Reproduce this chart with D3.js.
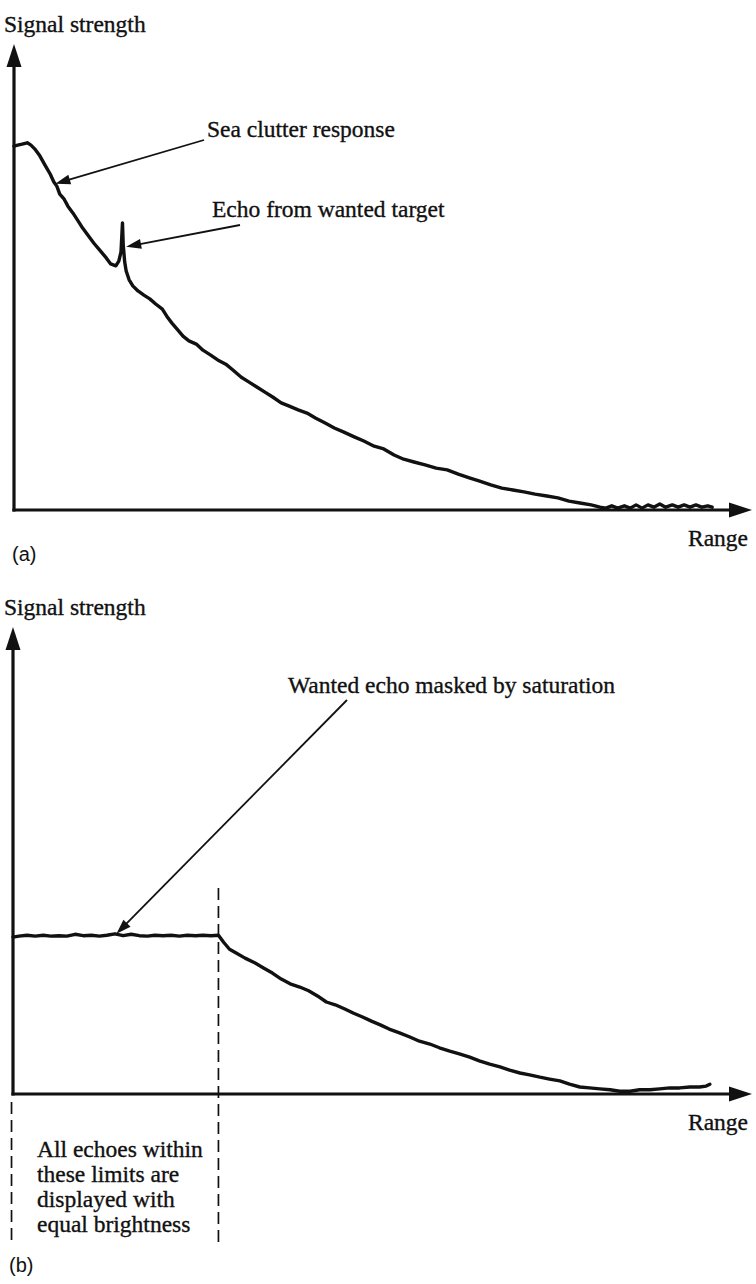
<!DOCTYPE html>
<html>
<head>
<meta charset="utf-8">
<script src="https://cdn.jsdelivr.net/npm/d3@7"></script>
<style>
  html, body { margin: 0; padding: 0; background: #fff; }
  svg { display: block; }
</style>
</head>
<body>
<svg id="chart" width="756" height="1284"></svg>
<script>
// ---------------- DATA (range and signal strength, arbitrary 0-100 units) ----------------
const rangeA = [0,0.5,1.1,1.8,2.3,2.8,3.5,4.2,4.9,5.4,5.8,6.2,6.8,7.3,8.0,8.7,9.3,10.0,10.8,11.7,12.5,13.1,
  13.8,14.2,14.5,14.7,14.8,15.0,15.2,15.6,
  16.1,16.8,17.6,18.4,19.2,20.1,20.7,21.4,22.1,22.9,23.7,24.7,25.6,26.6,27.6,28.7,29.7,30.8,31.8,32.9,34.0,35.1,
  36.2,37.3,38.5,39.7,40.9,42.1,43.4,44.7,46.1,47.4,48.8,50.1,51.5,52.8,54.2,55.7,57.2,58.7,60.2,61.7,63.1,64.6,
  66.1,67.6,69.1,70.6,72.2,73.7,75.2,76.7,78.2,79.4,80.2,81.0,81.8,82.7,83.5,84.3,85.1,85.9,86.7,87.5,88.3,89.2,
  90.0,90.8,91.6,92.4,93.2,94.0,94.6];
const signalA = [78.1,78.3,78.5,78.8,78.3,77.5,76.0,74.0,72.1,70.4,69.5,67.8,66.7,65.2,63.7,62.0,60.5,59.0,57.3,55.6,54.1,52.8,
  52.4,53.4,55.4,61.6,56.9,53.2,51.3,49.4,
  48.1,47.0,46.1,45.3,44.2,43.1,41.6,40.1,38.8,37.3,36.3,35.6,34.3,33.3,32.2,31.3,30.0,28.5,27.5,26.4,25.3,24.2,
  23.0,22.3,21.5,20.8,19.7,18.7,17.6,16.7,15.7,14.8,13.7,13.1,11.8,10.9,10.3,9.7,9.0,8.6,7.7,6.9,6.2,5.4,
  4.7,4.3,3.9,3.4,3.0,2.6,1.9,1.5,1.1,0.6,0.4,0.9,0.4,0.9,0.4,1.1,0.4,1.1,0.6,1.3,0.6,1.1,
  0.6,1.1,0.6,1.1,0.6,0.9,0.6];

const rangeB = [0,0.8,1.9,3.0,4.1,5.1,6.2,7.3,8.4,9.5,10.6,11.7,12.7,13.8,14.9,16.0,17.1,18.2,19.2,20.3,21.4,22.5,23.6,24.7,25.7,26.8,27.8,
  28.5,29.3,30.2,31.4,32.7,33.9,35.1,36.3,37.5,38.8,40.0,41.2,42.4,43.6,44.9,46.1,47.3,48.5,49.7,50.9,52.3,53.7,55.0,
  56.4,57.7,59.1,60.4,61.8,63.1,64.5,65.9,67.2,68.6,69.9,71.3,72.6,74.0,75.3,76.7,78.0,79.4,80.8,82.1,83.5,84.8,86.2,
  87.5,88.9,90.2,91.6,92.9,93.8,94.3];
const signalB = [33.6,33.8,34.0,33.8,34.0,33.8,33.9,33.8,34.2,33.9,34.0,33.8,34.0,34.3,33.9,34.2,33.9,33.8,34.0,33.9,34.0,33.8,34.0,33.9,34.0,33.9,34.0,
  32.5,31.0,30.2,29.1,28.1,27.0,25.9,24.6,23.6,22.9,22.1,21.0,19.7,19.1,18.2,17.3,16.5,15.6,14.8,13.9,13.1,12.2,11.3,
  10.7,9.9,9.2,8.6,7.9,7.1,6.4,5.8,5.1,4.5,4.1,3.6,3.2,2.8,2.1,1.5,1.3,1.1,0.9,0.6,0.6,0.9,0.9,
  1.1,1.3,1.3,1.5,1.5,1.7,2.1];

// saturation limits (range units) for panel (b)
const saturationLimits = [-0.2, 27.8];

// text labels
const yLabel = "Signal strength";
const xLabel = "Range";
const panelLabels = ["(a)", "(b)"];
const annotationsA = ["Sea clutter response", "Echo from wanted target"];
const annotationB = "Wanted echo masked by saturation";
const limitNote = ["All echoes within", "these limits are", "displayed with", "equal brightness"];

// ---------------- DRAWING ----------------
const svg = d3.select("#chart");
svg.append("rect").attr("width", 756).attr("height", 1284).attr("fill", "#fff");

const serif = "'Liberation Serif', 'Times New Roman', serif";
const sans = "'Liberation Sans', Arial, sans-serif";
const ink = "#111";

function serifText(g, x, y, s) {
  return g.append("text").attr("x", x).attr("y", y).text(s)
    .attr("font-family", serif).attr("font-size", 23.5).attr("fill", ink)
    .attr("stroke", ink).attr("stroke-width", 0.35);
}

function arrowHead(g, tip, from, len, half) {
  const dx = tip[0] - from[0], dy = tip[1] - from[1];
  const L = Math.hypot(dx, dy), ux = dx / L, uy = dy / L;
  const bx = tip[0] - ux * len, by = tip[1] - uy * len;
  const px = -uy * half, py = ux * half;
  g.append("path")
    .attr("d", `M${tip[0]},${tip[1]}L${bx + px},${by + py}L${bx - px},${by - py}Z`)
    .attr("fill", ink);
}

function annotArrow(g, from, tip) {
  const dx = tip[0] - from[0], dy = tip[1] - from[1];
  const L = Math.hypot(dx, dy);
  const end = [tip[0] - dx / L * 10, tip[1] - dy / L * 10];
  g.append("line").attr("x1", from[0]).attr("y1", from[1]).attr("x2", end[0]).attr("y2", end[1])
    .attr("stroke", ink).attr("stroke-width", 1.8);
  arrowHead(g, tip, from, 15, 5);
}

function panel(cfg) {
  const g = svg.append("g");
  const x = d3.scaleLinear().domain([0, 100]).range([cfg.x0, 752]);
  const y = d3.scaleLinear().domain([0, 100]).range([cfg.y0, cfg.yTop]);

  // axes
  g.append("line").attr("x1", x(0)).attr("x2", x(0)).attr("y1", cfg.y0 + 1.5).attr("y2", cfg.yTop + 18)
    .attr("stroke", ink).attr("stroke-width", 3.2);
  arrowHead(g, [x(0), cfg.yTop], [x(0), cfg.y0], 23, 7.5);
  g.append("line").attr("x1", x(0) - 1.6).attr("x2", 752 - 18).attr("y1", cfg.y0).attr("y2", cfg.y0)
    .attr("stroke", ink).attr("stroke-width", 3.2);
  arrowHead(g, [752, cfg.y0], [x(0), cfg.y0], 23, 7.5);

  // axis labels
  serifText(g, 4, cfg.yTop - 12, yLabel);
  serifText(g, 748, cfg.y0 + 36, xLabel).attr("text-anchor", "end");

  // curve
  const line = d3.line().x(d => x(d[0])).y(d => y(d[1])).curve(d3.curveLinear);
  g.append("path").datum(d3.zip(cfg.rx, cfg.sy)).attr("d", line)
    .attr("fill", "none").attr("stroke", ink).attr("stroke-width", 3.4)
    .attr("stroke-linejoin", "round").attr("stroke-linecap", "round");

  return {g, x, y};
}

// Panel (a)
const A = panel({x0: 14, y0: 510, yTop: 44, rx: rangeA, sy: signalA});
A.g.append("text").attr("x", 12).attr("y", 561).text(panelLabels[0])
  .attr("font-family", sans).attr("font-size", 20).attr("fill", ink);
serifText(A.g, 207, 137, annotationsA[0]);
annotArrow(A.g, [204, 140], [A.x(5.6), A.y(70.0)]);
serifText(A.g, 212, 217, annotationsA[1]);
annotArrow(A.g, [240, 225], [A.x(15.2), A.y(56.5)]);

// Panel (b)
const B = panel({x0: 13, y0: 1094, yTop: 627, rx: rangeB, sy: signalB});
B.g.append("text").attr("x", 9).attr("y", 1272).text(panelLabels[1])
  .attr("font-family", sans).attr("font-size", 20).attr("fill", ink);
serifText(B.g, 288, 693, annotationB);
annotArrow(B.g, [347, 700], [B.x(14.0), B.y(34.3)]);

// dashed saturation limits
B.g.append("line").attr("x1", B.x(saturationLimits[0])).attr("x2", B.x(saturationLimits[0]))
  .attr("y1", 1102).attr("y2", 1242)
  .attr("stroke", ink).attr("stroke-width", 1.7).attr("stroke-dasharray", "12,6");
B.g.append("line").attr("x1", B.x(saturationLimits[1])).attr("x2", B.x(saturationLimits[1]))
  .attr("y1", 888).attr("y2", 1242)
  .attr("stroke", ink).attr("stroke-width", 1.7).attr("stroke-dasharray", "12,6");

// note text
B.g.append("text").attr("font-family", serif).attr("font-size", 23.5).attr("fill", ink)
  .attr("stroke", ink).attr("stroke-width", 0.35)
  .selectAll("tspan").data(limitNote).join("tspan")
  .attr("x", 37).attr("y", (d, i) => 1157 + i * 25).text(d => d);
</script>
</body>
</html>
